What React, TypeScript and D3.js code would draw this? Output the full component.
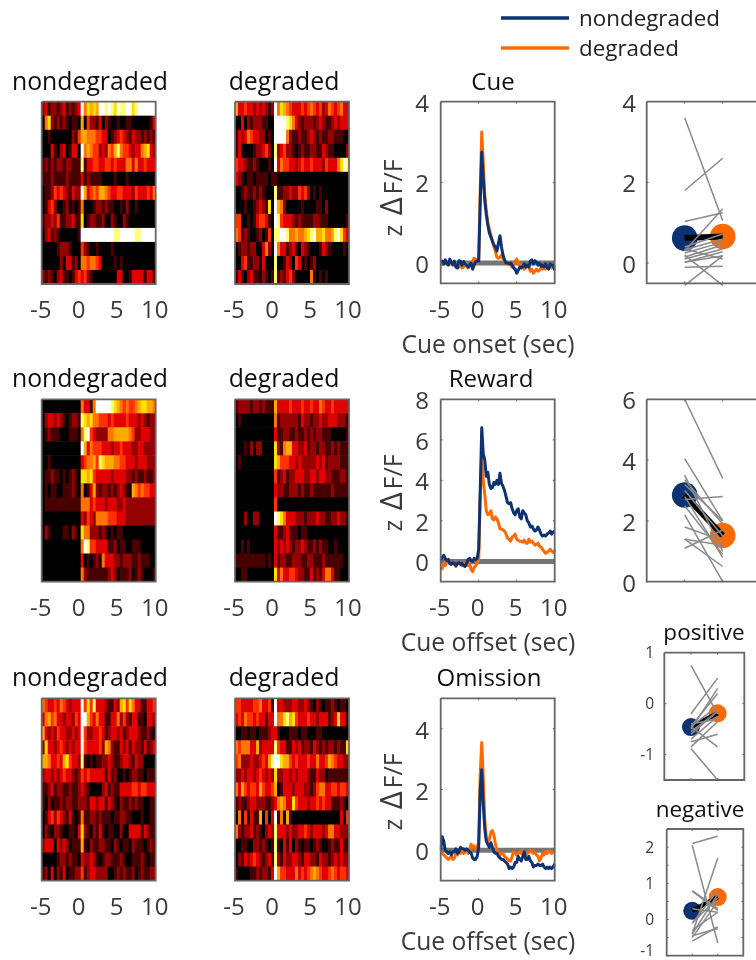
import React from "react";
import * as d3 from "d3";

const NAVY = "#0b3272";
const ORANGE = "#ff6a00";
const FONT = "'Open Sans', sans-serif";
const TXT = "#3a3a3a";

const heatCueNon = [
  "2312212312123|9576769989879889978999999",
  "0572121210110|6042213021001001100000013",
  "0010000000214|6655544330123432132212121",
  "0003102301330|9565442325468544323356732",
  "1212122122111|8133443344343335535334333",
  "1112111121111|3121111000010001000000000",
  "0112434321322|9634546654334433324333435",
  "0134200120101|5000122121100102001000000",
  "1223241122311|7012211200210021000000000",
  "0231210000001|9999999999988999998899999",
  "0000012221000|4210010000100000000000000",
  "0000002033120|5545543000010100000000000",
  "2121023110134|3421000000003300133331331",
];
const heatCueDeg = [
  "6334332323212|9576543334345434235434533",
  "0030212221100|9999875321222123211232333",
  "1323543322010|9999521121123212112211100",
  "1300001223420|8234221012112211321100002",
  "4332112100010|9354433234334333243335798",
  "3210110111101|1000000000000000000000000",
  "0012112121000|8112232243420101000000000",
  "0001001232170|9652000001000011020000000",
  "4400101344310|9843332121111221110000001",
  "5412100120140|8899855655678966755689743",
  "0122122003520|9533123103210001321000010",
  "0034112203000|8001320430101200000000000",
  "1310231102101|8121342000005101010000000",
];
const heatRewNon = [
  "0000000000000|5331599999876545445677665",
  "0233232101221|8767554443433334333232122",
  "0121110001110|5894322225566666542233322",
  "0000000000000|9635444333233433322332222",
  "0010000000000|3455648766655443332333222",
  "0112110101210|7767433333233332212112112",
  "0101100111210|5013621221212321065454433",
  "0111111111111|5553433323332232222222222",
  "0000000000000|3243255554443332222222222",
  "0210000110210|7552221210101100000000000",
  "0000000000000|5984433331120110011100000",
  "0000000000000|3010120533322122211211100",
  "0000000000000|5211111112320111201210001",
];
const heatRewDeg = [
  "1222212212111|6333343334334335433433333",
  "0100000000000|5122222213221223223332221",
  "0000000000000|3112211211212122111000001",
  "0001020220000|7215663322312212211212111",
  "0100000000000|7644433232222232312222111",
  "0000000000000|4123122333223323322111221",
  "0000000000000|3221122212112111111211111",
  "0000000000000|4000000000000000000000000",
  "0002002200000|9875333222122232211223221",
  "0000000000000|3112311101100000000000000",
  "0010100000000|3232321223211212110010000",
  "1111111111010|3122112221122111211111100",
  "0011000000000|7353344322113121355311000",
];
const heatOmiNon = [
  "5433435432333|9474833321132674753311334",
  "3564533233243|9964353311335242133110332",
  "6323243322323|9422334312332312333211210",
  "2733234323233|9433334265211323132213123",
  "6653343674332|8101011223211233213220000",
  "2332323433212|4343333313120010122110111",
  "1123122112112|3210000231211333344344333",
  "1020112122112|2213323313210211212110011",
  "0134243213101|5112212111011221100010011",
  "0210221001103|7210213101100200333313211",
  "2333032320111|6102112211021011021110121",
  "0000012212110|3223210122111210011121011",
  "1203021301122|4123322220012121120121122",
];
const heatOmiDeg = [
  "4433334453341|9332223322321021011210110",
  "3435443433133|9557867433343323331237331",
  "0011011011123|3100011101100011000000000",
  "5455533623333|8433113231221321212212117",
  "4522232234368|9976643433343353346543322",
  "2232332343232|7223323233321132201111111",
  "5364344364334|6013332333221245533443443",
  "1211233222112|3565337433323343433111210",
  "0504031160403|9150610000000000000000304",
  "5212231210232|8333232233432333235533222",
  "0011002212101|8103130210110121001211311",
  "0213234321231|8213223321332213221232322",
  "1000011212213|9644333534345654334543443",
];

const cueNon = [0.02,0.05,-0.02,0.08,0,-0.05,0.1,0.02,-0.04,0.05,-0.1,-0.12,0.06,0.05,-0.05,0.04,-0.02,-0.05,-0.1,-0.05,0,-0.15,-0.05,0.03,0.05,0.05,1.5,2.75,2.1,1.55,1.2,0.95,0.75,0.65,0.55,0.45,0.4,0.3,0.5,0.68,0.4,0.2,0.08,0,0,-0.02,0,-0.05,-0.12,-0.15,-0.25,-0.18,-0.1,-0.12,-0.08,-0.02,-0.1,-0.05,-0.1,0.05,0.08,-0.02,0.06,0.02,-0.05,0,-0.08,-0.05,-0.1,-0.02,-0.1,-0.15,-0.02,-0.05,-0.05,-0.18];
const cueDeg = [0.05,-0.02,0.03,0,0.02,-0.03,-0.02,0.02,-0.05,0,0,-0.08,-0.1,-0.05,-0.12,-0.1,-0.05,-0.02,-0.12,-0.08,-0.03,0.05,0.12,0.1,0,0.1,1.8,3.25,2.5,1.7,1.3,1,0.85,0.7,0.55,0.4,0.3,0.15,0.12,0.15,0.2,0.1,0.05,0,-0.02,0.02,-0.05,-0.1,-0.05,0.05,0.1,0,-0.03,-0.05,-0.08,-0.15,-0.1,-0.05,-0.1,-0.2,-0.15,-0.25,-0.2,-0.15,-0.2,-0.18,-0.12,-0.15,-0.05,-0.15,-0.1,-0.08,-0.05,-0.12,-0.05,-0.1];
const rewNon = [0.05,0.2,0.3,0.15,0.05,0.1,-0.1,-0.15,-0.05,-0.1,-0.2,-0.1,-0.05,-0.15,-0.1,-0.2,-0.25,-0.1,0.1,0.15,0.05,0,0.15,0.1,0.15,0.6,3.5,6.6,5.3,5,4.2,4.4,3.8,3.6,3.65,3.9,3.8,4,3.8,4.35,3.85,3.7,3.5,3.2,2.9,2.85,2.9,2.6,2.4,2.3,2.5,2.6,2.2,2.1,2.5,2.4,2.3,2,1.9,1.7,1.75,1.6,1.5,1.55,1.7,1.55,1.35,1.25,1.3,1.25,1.35,1.4,1.5,1.35,1.45,1.5];
const rewDeg = [-0.4,-0.35,-0.1,-0.2,-0.05,-0.05,-0.1,-0.05,-0.1,-0.15,-0.25,-0.1,-0.05,-0.1,-0.2,-0.1,-0.05,-0.1,-0.2,-0.1,-0.4,-0.5,-0.3,-0.2,-0.1,0.1,3.2,5.1,4,3.3,2.5,2.3,2.35,2.5,2.1,2.05,2.2,2.1,1.9,1.6,1.6,1.55,1.5,1.35,1.15,1.1,1,1.2,1.25,1.35,1.1,1.05,1,1,0.95,1.05,0.9,0.9,1.1,0.95,1,0.9,0.8,0.85,0.9,0.75,0.7,0.6,0.5,0.4,0.45,0.5,0.6,0.5,0.45,0.55];
const omiNon = [0,0.45,0.3,0,-0.05,-0.1,-0.05,-0.15,-0.05,-0.05,0.05,-0.1,-0.05,0.1,0.05,0.05,0,0.05,0,-0.05,-0.1,-0.25,-0.3,-0.3,-0.2,0.1,2,2.65,1.5,0.7,0.3,0.2,0.1,0.25,0.1,-0.05,-0.1,-0.1,-0.2,-0.25,-0.3,-0.3,-0.35,-0.4,-0.45,-0.6,-0.55,-0.6,-0.55,-0.4,-0.4,-0.2,-0.3,-0.35,-0.2,-0.05,-0.3,-0.3,-0.2,-0.35,-0.4,-0.55,-0.5,-0.5,-0.45,-0.5,-0.5,-0.45,-0.55,-0.6,-0.55,-0.6,-0.55,-0.6,-0.55,-0.45];
const omiDeg = [-0.05,-0.1,-0.15,-0.2,-0.25,-0.3,-0.25,-0.2,-0.3,-0.25,-0.1,-0.15,-0.05,-0.1,0,-0.1,-0.05,0,-0.1,0,0.2,0.1,0.15,0.05,0.05,0.3,2.5,3.55,2.4,1,0.4,0.3,0.35,0.6,0.65,0.5,0.2,0,-0.1,-0.15,-0.1,-0.1,-0.2,-0.25,-0.3,-0.35,-0.35,-0.2,-0.05,-0.1,-0.15,-0.1,-0.05,-0.1,0,-0.05,-0.15,-0.1,-0.05,0,-0.05,-0.1,-0.05,-0.15,-0.2,-0.35,-0.25,-0.1,-0.15,-0.05,-0.1,0,-0.05,-0.1,-0.05,-0.05];

const pairsCue = [[3.6,1.05],[1.8,2.6],[1.03,1.25],[0.3,1.35],[0.4,0.72],[0.33,0.6],[0.25,0.52],[0.15,0.45],[0.1,0.35],[0.02,0.28],[0.35,0.1],[-0.1,-0.08],[0.02,0.18],[-0.55,0.18],[0.2,-0.55]];
const pairsRew = [[6,3.4],[4.05,2],[3.5,1],[3.35,1.9],[2.7,2.8],[3,1.5],[2.8,0.8],[2.5,0.9],[1.8,1.35],[1.4,1.2],[1.4,0.5],[1.1,1.7],[2.2,0],[3.2,2]];
const pairsPos = [[0.75,-0.2],[-0.2,0.5],[-0.5,0.3],[-0.45,0.2],[-0.45,-0.05],[-0.55,-0.15],[-0.4,-0.3],[-0.6,-0.15],[-0.7,-0.25],[-0.75,-0.6],[-0.85,-0.35],[-0.45,-0.85],[-0.88,-1.5]];
const pairsNeg = [[2.1,2.3],[2.05,-0.65],[0.78,0.25],[0.8,0.3],[-0.4,1.7],[-0.1,0.8],[-0.4,0.7],[-0.5,0.5],[-0.3,0.2],[-0.1,0.6],[0.3,0.2],[-0.6,-0.2],[-0.45,-0.25]];

const meanCue = [0.62, 0.66];
const meanRew = [2.85, 1.52];
const meanPos = [-0.46, -0.19];
const meanNeg = [0.24, 0.62];

const timeTicks = [-5, 0, 5, 10];
const hot = d3.scaleLinear<string>()
  .domain([0, 1, 2, 3, 4, 5, 6, 7, 8, 9])
  .range(["#000000", "#480000", "#960000", "#e00000", "#ff3000", "#ff7400", "#ffaa00", "#ffe000", "#ffff78", "#ffffff"]);

const FRAME = "#666666";

function Frame({ x0, x1, y0, y1, right = true }: any) {
  return (
    <path
      d={`M${x0},${y0}H${right ? x1 : 770}${right ? `V${y1}` : `M770,${y1}`}H${x0}V${y0}`}
      fill="none"
      stroke={FRAME}
      strokeWidth={1.8}
    />
  );
}

function Ticks({ x, y, xt, yt }: any) {
  const [x0, x1] = x.range();
  const [y1, y0] = y.range();
  return (
    <g stroke={FRAME} strokeWidth={1}>
      {xt.map((t: number) => (
        <g key={t}>
          <line x1={x(t)} x2={x(t)} y1={y0} y2={y0 + 2} />
          <line x1={x(t)} x2={x(t)} y1={y1} y2={y1 - 2} />
        </g>
      ))}
      {yt.map((t: number) => (
        <g key={t}>
          <line x1={x0} x2={x0 + 2} y1={y(t)} y2={y(t)} />
          <line x1={x1} x2={x1 - 2} y1={y(t)} y2={y(t)} />
        </g>
      ))}
    </g>
  );
}

function TimeLabels({ x, y }: any) {
  return (
    <>
      {timeTicks.map((t) => (
        <text key={t} x={x(t) - 1} y={y} textAnchor="middle" fontSize={24} fill={TXT} fontFamily={FONT}>
          {t}
        </text>
      ))}
    </>
  );
}

function Heat({ rows, x0, y0, title, labelY, titleX }: any) {
  const w = 114;
  const h = 182.3;
  const yb = d3.scaleBand<number>().domain(d3.range(rows.length)).range([y0, y0 + h]);
  const x = d3.scaleLinear().domain([-5, 10]).range([x0, x0 + w]);
  const id = `clip-${Math.round(x0)}-${Math.round(y0)}`;
  return (
    <g>
      <text x={titleX} y={y0 - 12} textAnchor="middle" fontSize={24.8} fill="#111" fontFamily={FONT}>{title}</text>
      <clipPath id={id}><rect x={x0} y={y0} width={w} height={h} /></clipPath>
      <g clipPath={`url(#${id})`}>
        <g filter="url(#soft)">
          {rows.map((row: string, i: number) => {
            const cells = row.replace("|", "");
            const cx = d3.scaleBand<number>().domain(d3.range(cells.length)).range([x0, x0 + w]);
            return Array.from(cells).map((c, j) => (
              <rect key={`${i}-${j}`} x={cx(j)} y={yb(i)} width={cx.bandwidth() + 0.5} height={yb.bandwidth() + 0.5} fill={hot(+c)} />
            ));
          })}
        </g>
      </g>
      <Frame x0={x0} x1={x0 + w} y0={y0} y1={y0 + h} />
      <TimeLabels x={x} y={labelY} />
    </g>
  );
}

function Trace({ y0, h, dom, yt, non, deg, title, xlabel, labelY, xlabelY, titleX, xlabelX, deltaY }: any) {
  const x0 = 440.7;
  const x = d3.scaleLinear().domain([-5, 10]).range([x0, x0 + 114]);
  const y = d3.scaleLinear().domain(dom).range([y0 + h, y0]);
  const ln = (vals: number[]) =>
    d3.line<number>().x((_, i) => x(-5 + (i * 15) / (vals.length - 1))).y((v) => y(v))(vals) as string;
  const id = `tr-${Math.round(y0)}`;
  return (
    <g>
      <text x={titleX} y={y0 - 12} textAnchor="middle" fontSize={24} fill="#111" fontFamily={FONT}>{title}</text>
      <clipPath id={id}><rect x={x0 - 1} y={y0} width={116} height={h} /></clipPath>
      <g clipPath={`url(#${id})`}>
        <line x1={x0} x2={x0 + 114} y1={y(0)} y2={y(0)} stroke="#666" strokeWidth={5} opacity={0.9} />
        <path d={ln(deg)} fill="none" stroke={ORANGE} strokeWidth={3} strokeLinejoin="round" />
        <path d={ln(non)} fill="none" stroke={NAVY} strokeWidth={3} strokeLinejoin="round" />
      </g>
      <Frame x0={x0} x1={x0 + 114} y0={y0} y1={y0 + h} />
      <Ticks x={x} y={y} xt={timeTicks} yt={yt} />
      {yt.map((t: number) => (
        <text key={t} x={429} y={y(t) + 10} textAnchor="end" fontSize={24} fill={TXT} fontFamily={FONT}>{t}</text>
      ))}
      <TimeLabels x={x} y={labelY} />
      <text x={xlabelX} y={xlabelY} textAnchor="middle" fontSize={24.6} fill={TXT} fontFamily={FONT}>{xlabel}</text>
      <text transform={`translate(402,${deltaY}) rotate(-90)`} textAnchor="middle" fontSize={25} fill={TXT} fontFamily={FONT}>
        z <tspan fontSize={31} dx={3}>Δ</tspan><tspan dx={3}>F/F</tspan>
      </text>
    </g>
  );
}

function Paired({ x0, x1, y0, y1, dom, yt, minor = [], pairs, mean, r, fs, labelX, right, title, titleX, titleY, dy }: any) {
  const x = d3.scaleLinear().domain([0, 3]).range([x0, x1]);
  const y = d3.scaleLinear().domain(dom).range([y1, y0]);
  return (
    <g>
      {title && <text x={titleX} y={titleY} textAnchor="middle" fontSize={22.5} fill="#111" fontFamily={FONT}>{title}</text>}
      <circle cx={x(1)} cy={y(mean[0])} r={r} fill={NAVY} />
      <circle cx={x(2)} cy={y(mean[1])} r={r} fill={ORANGE} />
      <line x1={x(1)} x2={x(2)} y1={y(mean[0])} y2={y(mean[1])} stroke="#000" strokeWidth={r > 10 ? 6 : 4.5} />
      {pairs.map((p: number[], i: number) => (
        <line key={i} x1={x(1)} x2={x(2)} y1={y(p[0])} y2={y(p[1])} stroke="#8a8a8a" strokeWidth={1.5} />
      ))}
      <Frame x0={x0} x1={x1} y0={y0} y1={y1} right={right} />
      <Ticks x={x} y={y} xt={[1, 2]} yt={[...yt, ...minor]} />
      {yt.map((t: number) => (
        <text key={t} x={labelX} y={Math.min(y(t) + dy, 955.5)} textAnchor="end" fontSize={fs} fill={TXT} fontFamily={FONT}>{t}</text>
      ))}
    </g>
  );
}

export default function App() {
  return (
    <svg width={756} height={960} style={{ position: "fixed", left: 0, top: 0, background: "#fff" }}>
      <defs>
        <filter id="soft" x="-5%" y="-5%" width="110%" height="110%">
          <feGaussianBlur stdDeviation="0.7 0.6" />
        </filter>
        <filter id="page" x="0" y="0" width="100%" height="100%" filterUnits="userSpaceOnUse">
          <feGaussianBlur stdDeviation="0.3" />
        </filter>
      </defs>

      <g filter="url(#page)">
        <rect width={756} height={960} fill="#fff" />
        <line x1={501} x2={569} y1={18} y2={18} stroke={NAVY} strokeWidth={3.6} />
        <line x1={501} x2={569} y1={48} y2={48} stroke={ORANGE} strokeWidth={3.6} />
        <text x={579} y={26} fontSize={22.4} fill="#222" fontFamily={FONT}>nondegraded</text>
        <text x={579} y={56} fontSize={22.4} fill="#222" fontFamily={FONT}>degraded</text>

        <Heat rows={heatCueNon} x0={41.7} y0={101.7} title="nondegraded" labelY={318} titleX={90} />
        <Heat rows={heatCueDeg} x0={235} y0={101.7} title="degraded" labelY={318} titleX={284} />
        <Heat rows={heatRewNon} x0={41.7} y0={399.3} title="nondegraded" labelY={616} titleX={90} />
        <Heat rows={heatRewDeg} x0={235} y0={399.3} title="degraded" labelY={616} titleX={284} />
        <Heat rows={heatOmiNon} x0={41.7} y0={698.3} title="nondegraded" labelY={915} titleX={90} />
        <Heat rows={heatOmiDeg} x0={235} y0={698.3} title="degraded" labelY={915} titleX={284} />

        <Trace y0={101.7} h={181.6} dom={[-0.5, 4]} yt={[0, 2, 4]} non={cueNon} deg={cueDeg} title="Cue" titleX={493} xlabel="Cue onset (sec)" xlabelX={488} xlabelY={353} labelY={318} deltaY={198} />
        <Trace y0={399.3} h={182.4} dom={[-1, 8]} yt={[0, 2, 4, 6, 8]} non={rewNon} deg={rewDeg} title="Reward" titleX={491} xlabel="Cue offset (sec)" xlabelX={488} xlabelY={651} labelY={616} deltaY={493} />
        <Trace y0={698.3} h={182.4} dom={[-1, 5]} yt={[0, 2, 4]} non={omiNon} deg={omiDeg} title="Omission" titleX={489} xlabel="Cue offset (sec)" xlabelX={488} xlabelY={950} labelY={915} deltaY={792} />

        <Paired x0={646.7} x1={760.7} y0={101.7} y1={283.3} dom={[-0.5, 4]} yt={[0, 2, 4]} pairs={pairsCue} mean={meanCue} r={12.8} fs={24} labelX={636} right={false} dy={10} />
        <Paired x0={646.7} x1={760.7} y0={399.3} y1={581.7} dom={[0, 6]} yt={[0, 2, 4, 6]} pairs={pairsRew} mean={meanRew} r={12.8} fs={24} labelX={636} right={false} dy={10} />
        <Paired x0={664.3} x1={744.3} y0={652.7} y1={780} dom={[-1.5, 1]} yt={[-1, 0, 1]} pairs={pairsPos} mean={meanPos} r={9} fs={15.5} labelX={654} right title="positive" titleX={704} titleY={640} dy={5.5} />
        <Paired x0={666.7} x1={743.3} y0={829} y1={955.7} dom={[-1, 2.5]} yt={[-1, 0, 1, 2]} minor={[-0.5, 0.5, 1.5]} pairs={pairsNeg} mean={meanNeg} r={9} fs={15.5} labelX={654} right title="negative" titleX={700} titleY={817} dy={5.5} />
      </g>
    </svg>
  );
}
